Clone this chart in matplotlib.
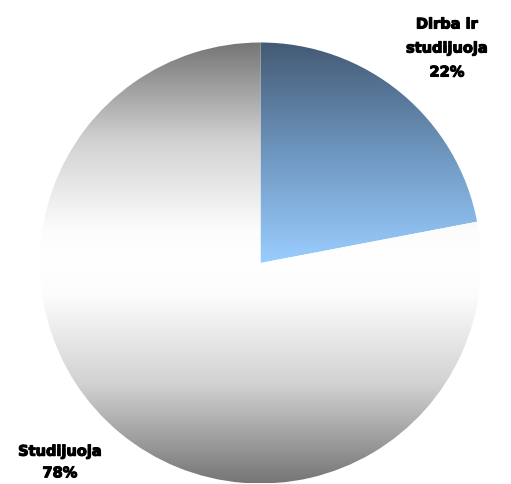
import numpy as np
import matplotlib
matplotlib.use("Agg")
import matplotlib.pyplot as plt
import matplotlib.patheffects as pe
from matplotlib.colors import LinearSegmentedColormap

labels = ["Dirba ir\nstudijuoja", "Studijuoja"]
shares = [22, 78]

W, H = 511, 484
fig = plt.figure(figsize=(W / 100, H / 100), dpi=100)
ax = fig.add_axes([0, 0, 1, 1])

cx, cy, R = 260.5, 221.0, 220.5

wedges, _ = ax.pie(shares, startangle=90, counterclock=False,
                   center=(cx, cy), radius=R, frame=True,
                   wedgeprops=dict(linewidth=0, facecolor="none"))
ax.set_xlim(0, W)
ax.set_ylim(0, H)
ax.set_aspect("equal")
ax.axis("off")

# vertical gradients clipped to each wedge
ys = np.linspace(cy - R, cy + R, 400)
t_gray = np.abs(ys - cy) / R
gray_cmap = LinearSegmentedColormap.from_list(
    "g", [(0, "#ffffff"), (0.15, "#fcfcfc"), (0.55, "#d2d2d2"), (1, "#767676")])
blue_cmap = LinearSegmentedColormap.from_list(
    "b", [(0, "#9acdff"), (0.5, "#6e96bf"), (1, "#445a74")])
t_blue = np.clip((ys - cy) / R, 0, 1)

extent = (cx - R, cx + R, cy - R, cy + R)
for w, t, cmap in [(wedges[0], t_blue, blue_cmap), (wedges[1], t_gray, gray_cmap)]:
    img = np.tile(t[:, None], (1, 2))
    im = ax.imshow(img, cmap=cmap, vmin=0, vmax=1, extent=extent,
                   origin="lower", aspect="auto", interpolation="bilinear", zorder=1)
    im.set_clip_path(w)

bold = [pe.withStroke(linewidth=0.8, foreground="black")]
ax.text(447, H - 48, f"{labels[0]}\n{shares[0]}%", ha="center", va="center",
        fontsize=10.5, fontweight="bold", linespacing=1.75, color="black",
        path_effects=bold)
ax.text(60, H - 462, f"{labels[1]}\n{shares[1]}%", ha="center", va="center",
        fontsize=10.5, fontweight="bold", linespacing=1.55, color="black",
        path_effects=bold)

fig.savefig("out.png", dpi=100)
